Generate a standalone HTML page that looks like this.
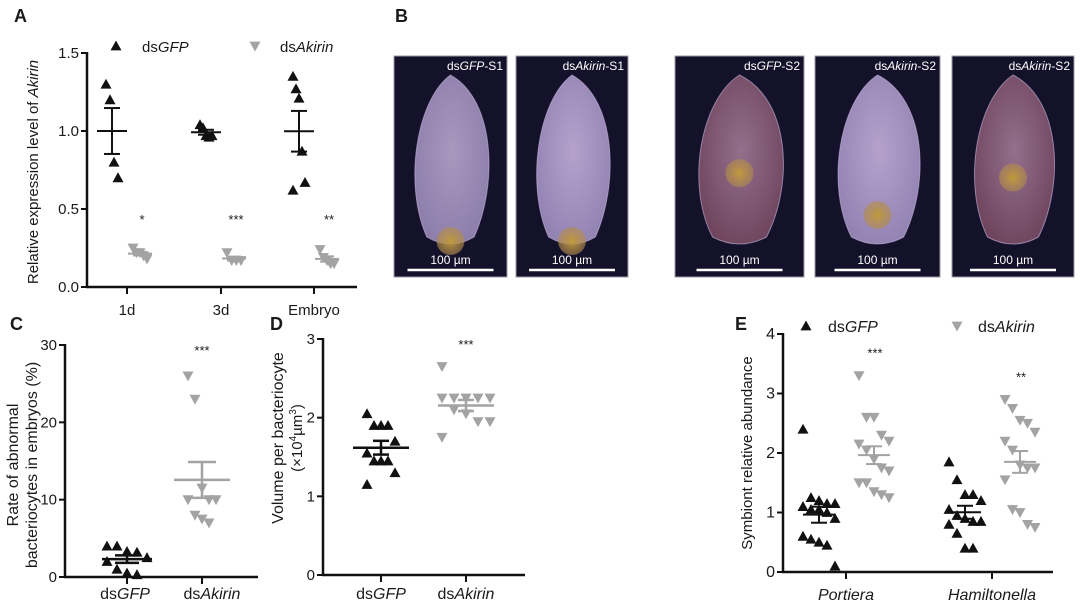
<!DOCTYPE html>
<html><head><meta charset="utf-8">
<style>
html,body{margin:0;padding:0;background:#fff;}
svg{display:block;font-family:"Liberation Sans",Arial,sans-serif;}
</style></head>
<body>
<svg id="fig" width="1080" height="615" viewBox="0 0 1080 615" xmlns="http://www.w3.org/2000/svg">
<defs>
<radialGradient id="gS1" cx="50%" cy="45%" r="60%"><stop offset="0" stop-color="#a898bf"/><stop offset="1" stop-color="#8c7daa"/></radialGradient>
<radialGradient id="gS2" cx="50%" cy="45%" r="60%"><stop offset="0" stop-color="#94708c"/><stop offset="1" stop-color="#6e445c"/></radialGradient>
<radialGradient id="gS3" cx="50%" cy="45%" r="60%"><stop offset="0" stop-color="#b4a2cc"/><stop offset="1" stop-color="#9282b2"/></radialGradient>
<radialGradient id="gY" cx="50%" cy="50%" r="50%"><stop offset="0" stop-color="#c09a3a"/><stop offset="1" stop-color="#b08a50" stop-opacity="0.6"/></radialGradient>
</defs>
<g id="root"></g>
</svg>
<script>
// ---------- Panel A data ----------
const aCategories = ["1d","3d","Embryo"];
const aGfp = [[1.3,1.2,0.8,0.7],[1.04,1.02,0.97,0.96,0.97],[1.35,1.27,1.21,0.87,0.67,0.62]];
const aAkirin = [[0.25,0.22,0.22,0.2,0.18],[0.22,0.17,0.17,0.17],[0.24,0.19,0.17,0.15,0.15]];
const aSig = ["*","***","**"];
const aTicks = [0,0.5,1.0,1.5];
// ---------- Panel C data ----------
const cCategories = ["dsGFP","dsAkirin"];
const cGfp = [4,4,3.3,3.2,2.5,2,1,0.5,0.3];
const cAkirin = [26,23,11.5,10,10,10,8,7.5,7];
const cTicks = [0,10,20,30];
// ---------- Panel D data ----------
const dGfp = [2.05,1.9,1.9,1.9,1.7,1.55,1.45,1.45,1.45,1.3,1.15];
const dAkirin = [2.65,2.25,2.25,2.25,2.25,2.25,2.1,2.05,1.95,1.95,1.75];
const dTicks = [0,1,2,3];
// ---------- Panel E data ----------
const eCategories = ["Portiera","Hamiltonella"];
const eGfp = [[2.4,1.25,1.2,1.15,1.15,1.1,1.05,1.05,1.0,0.9,0.6,0.55,0.5,0.45,0.1],[1.85,1.55,1.3,1.3,1.2,1.05,0.95,0.9,0.85,0.85,0.8,0.65,0.4,0.4]];
const eAkirin = [[3.3,2.6,2.6,2.3,2.2,2.15,2.05,1.9,1.75,1.7,1.5,1.5,1.35,1.3,1.25],[2.9,2.75,2.55,2.5,2.35,2.2,2.05,1.8,1.75,1.75,1.55,1.05,1.0,0.8,0.75]];
const eSig = ["***","**"];
const eTicks = [0,1,2,3,4];

const NS="http://www.w3.org/2000/svg";
const root=document.getElementById('root');
function mk(tag,attrs,parent){const e=document.createElementNS(NS,tag);for(const k in attrs)e.setAttribute(k,attrs[k]);(parent||root).appendChild(e);return e;}
function txt(x,y,s,size,parent,anchor,extra){const t=mk('text',Object.assign({x:x,y:y,'font-size':size,'text-anchor':anchor||'middle',fill:'#1a1a1a'},extra||{}),parent);t.innerHTML=s;return t;}
const BLACK="#111", GREY="#a3a3a3";
function tri(g,x,y,up,color,s){s=s||5.5;const p=up?`${x},${y-s} ${x-s},${y+s*0.8} ${x+s},${y+s*0.8}`:`${x},${y+s} ${x-s},${y-s*0.8} ${x+s},${y-s*0.8}`;const e=mk('polygon',{points:p,fill:color},g);return e;}
function mean(a){return a.reduce((s,v)=>s+v,0)/a.length;}
function sem(a){const m=mean(a);const sd=Math.sqrt(a.reduce((s,v)=>s+(v-m)*(v-m),0)/(a.length-1));return sd/Math.sqrt(a.length);}
function group(g,vals,cx,yf,up,color,spread,mw,ew,lw){
  const n=vals.length;const cols=Math.min(5,n);
  vals.forEach((v,i)=>{const c=i%cols;const off=(c-(cols-1)/2)*spread*2/(cols>1?cols-1:1);tri(g,cx+off,yf(v),up,color);});
  const m=mean(vals),s=sem(vals);
  const l1=mk('line',{x1:cx-mw,x2:cx+mw,y1:yf(m),y2:yf(m),stroke:color,'stroke-width':lw||2},g);
  const l2=mk('line',{x1:cx,x2:cx,y1:yf(m-s),y2:yf(m+s),stroke:color,'stroke-width':lw||2},g);
  [m-s,m+s].forEach(q=>{const l=mk('line',{x1:cx-ew,x2:cx+ew,y1:yf(q),y2:yf(q),stroke:color,'stroke-width':lw||2},g);});
}
function axes(g,x0,x1,y0,ticks,yf,fmt,cats,catX,fs){
  mk('line',{x1:x0,x2:x0,y1:y0,y2:yf(ticks[ticks.length-1])-1,stroke:BLACK,'stroke-width':2.5},g);
  mk('line',{x1:x0-1,x2:x1,y1:y0,y2:y0,stroke:BLACK,'stroke-width':2.5},g);
  ticks.forEach(t=>{mk('line',{x1:x0-6,x2:x0,y1:yf(t),y2:yf(t),stroke:BLACK,'stroke-width':2},g);const e=txt(x0-8,yf(t)+5,fmt(t),fs,g,'end');});
  cats.forEach((c,i)=>{mk('line',{x1:catX(i),x2:catX(i),y1:y0,y2:y0+7,stroke:BLACK,'stroke-width':2},g);const e=txt(catX(i),y0+28,c,fs,g);});
}
function label(x,y,s){const e=txt(x,y,s,18,root,'start',{'font-weight':'bold'});}

// ---------- Panel A ----------
(function(){
  const g=mk('g',{});
  const y0=287,y15=53;const yf=v=>y0-(v/1.5)*(y0-y15);
  const catX=i=>[127,221,314][i];
  axes(g,87,357,y0,aTicks,yf,t=>t.toFixed(1),aCategories,catX,15);
  aCategories.forEach((c,i)=>{group(g,aGfp[i],catX(i)-15,yf,true,BLACK,6,15,8);group(g,aAkirin[i],catX(i)+13,yf,false,GREY,7,12,7);
    const s=txt(catX(i)+15,yf(0.43)+4,aSig[i],13,g);});
  const yt=txt(0,0,'Relative expression level of <tspan font-style="italic">Akirin</tspan>',15,g,'middle',{transform:'translate(38,172) rotate(-90)'});
  tri(g,116,46,true,BLACK);const l1=txt(142,52,'ds<tspan font-style="italic">GFP</tspan>',15,g,'start');
  tri(g,255,46,false,GREY);const l2=txt(280,52,'ds<tspan font-style="italic">Akirin</tspan>',15,g,'start');
})();
label(14,22,'A');

// ---------- Panel B ----------
(function(){
  const panels=[[394,507,'ds<tspan font-style="italic">GFP</tspan>-S1','gS1',0.86],[516,628,'ds<tspan font-style="italic">Akirin</tspan>-S1','gS3',0.86],[675,804,'ds<tspan font-style="italic">GFP</tspan>-S2','gS2',0.53],[815,940,'ds<tspan font-style="italic">Akirin</tspan>-S2','gS3',0.72],[952,1074,'ds<tspan font-style="italic">Akirin</tspan>-S2','gS2',0.55]];
  panels.forEach((p,i)=>{
    const g=mk('g',{});
    const x=p[0],w=p[1]-p[0],top=56,bot=277;
    mk('rect',{x:x,y:top,width:w,height:bot-top,fill:'#14122a',stroke:'#9a9aa6','stroke-width':1},g);
    const cx=x+w/2,ty=75,by=245,hw=w*0.38;
    mk('path',{d:`M${cx},${ty} C${cx+hw*1.05},${ty+25} ${cx+hw*1.1},${by-60} ${cx+hw*0.55},${by-8} Q${cx},${by+6} ${cx-hw*0.55},${by-8} C${cx-hw*1.1},${by-60} ${cx-hw*0.8},${ty+25} ${cx},${ty} Z`,fill:`url(#${p[3]})`,stroke:'#c9b6e0','stroke-width':1,'stroke-opacity':0.6},g);
    mk('circle',{cx:cx,cy:top+(bot-top)*p[4]-(p[4]>0.8?5:0),r:14,fill:'url(#gY)'},g);
    const t=txt(p[1]-4,70,p[2],12,g,'end',{fill:'#ffffff'});
    const s=txt(cx,264,'100 µm',12,g,'middle',{fill:'#ffffff'});
    mk('line',{x1:cx-43,x2:cx+43,y1:270,y2:270,stroke:'#ffffff','stroke-width':2.5},g);
  });
})();
label(395,22,'B');

// ---------- Panel C ----------
(function(){
  const g=mk('g',{});
  const y0=577,y30=345;const yf=v=>y0-(v/30)*(y0-y30);
  const catX=i=>[127,202][i];
  axes(g,65,258,y0,cTicks,yf,t=>String(t),[],catX,15);
  [0,1].forEach(i=>{mk('line',{x1:catX(i),x2:catX(i),y1:y0,y2:y0+7,stroke:BLACK,'stroke-width':2},g);});
  const t1=txt(125,599,'ds<tspan font-style="italic">GFP</tspan>',16,g);
  const t2=txt(212,599,'ds<tspan font-style="italic">Akirin</tspan>',16,g);
  group(g,cGfp,127,yf,true,BLACK,20,25,12,2.5);
  group(g,cAkirin,202,yf,false,GREY,14,28,14,2.5);
  txt(202,y30+10,'***',13,g);
  const yt=txt(0,0,'Rate of abnormal',16,g,'middle',{transform:'translate(18,465) rotate(-90)'});
  const yt2=txt(0,0,'bacteriocytes in embryos (%)',16,g,'middle',{transform:'translate(37,465) rotate(-90)'});
})();
label(10,330,'C');

// ---------- Panel D ----------
(function(){
  const g=mk('g',{});
  const y0=575,y3=339;const yf=v=>y0-(v/3)*(y0-y3);
  const catX=i=>[381,466][i];
  axes(g,323,525,y0,dTicks,yf,t=>String(t),[],catX,15);
  [0,1].forEach(i=>{mk('line',{x1:catX(i),x2:catX(i),y1:y0,y2:y0+7,stroke:BLACK,'stroke-width':2},g);});
  const t1=txt(381,599,'ds<tspan font-style="italic">GFP</tspan>',16,g);
  const t2=txt(466,599,'ds<tspan font-style="italic">Akirin</tspan>',16,g);
  group(g,dGfp,381,yf,true,BLACK,14,28,8,2.5);
  group(g,dAkirin,466,yf,false,GREY,24,28,8,2.5);
  txt(466,y3+10,'***',13,g);
  const yt=txt(0,0,'Volume per bacteriocyte',16,g,'middle',{transform:'translate(283,438) rotate(-90)'});
  const yt2=txt(0,0,'(×10<tspan font-size="10" dy="-6">4</tspan><tspan dy="6">µm</tspan><tspan font-size="10" dy="-6">3</tspan><tspan dy="6">)</tspan>',15,g,'middle',{transform:'translate(302,438) rotate(-90)'});
})();
label(270,330,'D');

// ---------- Panel E ----------
(function(){
  const g=mk('g',{});
  const y0=572,y4=334;const yf=v=>y0-(v/4)*(y0-y4);
  const catX=i=>[846,992][i];
  axes(g,783,1053,y0,eTicks,yf,t=>String(t),[],catX,16);
  eCategories.forEach((c,i)=>{
    mk('line',{x1:catX(i),x2:catX(i),y1:y0,y2:y0+7,stroke:BLACK,'stroke-width':2},g);
    const t=txt(catX(i),600,c,16,g,'middle',{'font-style':'italic'});
    group(g,eGfp[i],catX(i)-27,yf,true,BLACK,16,16,8,2);
    group(g,eAkirin[i],catX(i)+28,yf,false,GREY,15,16,8,2);
    txt(catX(i)+29,yf(eAkirin[i][0])-18,eSig[i],13,g);
  });
  const yt=txt(0,0,'Symbiont relative abundance',15,g,'middle',{transform:'translate(752,453) rotate(-90)'});
  tri(g,806,326,true,BLACK);const l1=txt(828,332,'ds<tspan font-style="italic">GFP</tspan>',16,g,'start');
  tri(g,957,326,false,GREY);const l2=txt(978,332,'ds<tspan font-style="italic">Akirin</tspan>',16,g,'start');
})();
label(735,330,'E');
</script>
</body></html>
